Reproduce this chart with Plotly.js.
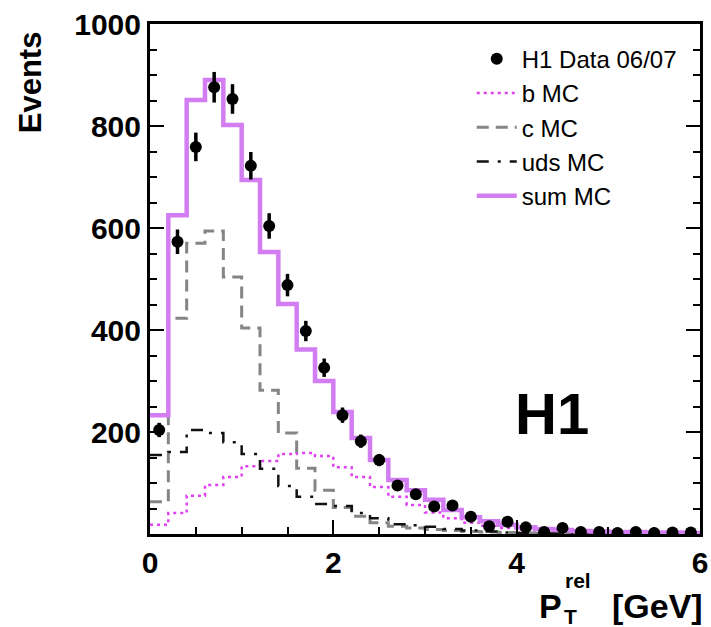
<!DOCTYPE html>
<html>
<head>
<meta charset="utf-8">
<script src="https://cdn.plot.ly/plotly-3.0.1.min.js"></script>
<style>html,body{margin:0;padding:0;background:#fff;}#chart{width:711px;height:627px;}</style>
</head>
<body>
<div id="chart"></div>
<script>
// Bin edges and bin centres of the P_T^rel histogram [GeV]
const binEdges = [0,0.2,0.4,0.6,0.8,1.0,1.2,1.4,1.6,1.8,2.0,2.2,2.4,2.6,2.8,3.0,3.2,3.4,3.6,3.8,4.0,4.2,4.4,4.6,4.8,5.0,5.2,5.4,5.6,5.8,6.0];
const binCentres = [0.1,0.3,0.5,0.7,0.9,1.1,1.3,1.5,1.7,1.9,2.1,2.3,2.5,2.7,2.9,3.1,3.3,3.5,3.7,3.9,4.1,4.3,4.5,4.7,4.9,5.1,5.3,5.5,5.7,5.9];

// H1 Data 06/07
const dataEvents = [204,573,759,876,853,722,604,488,398,326,233,182,145,95,78,54,56,34,15,24,13,4,12,4,4,2,4,2,3,3];
const dataErrors = [14,24,28,30,29,27,25,22,20,18,15,13,12,10,9,7,7,6,4,5,4,2,3,2,2,1,2,1,2,2];

// Monte Carlo templates
const bMC   = [18,41,75,96,112,133,143,157,159,153,131,112,92,73,57,42,31,22,16,12,9,7,5,4,3,3,2,2,2,1];
const cMC   = [63,423,570,594,504,404,282,198,129,86,52,35,22,15,12,9,7,5,4,3,2,1.5,1,1,0.8,0.6,0.5,0.4,0.3,0.3];
const udsMC = [155,161,204,198,180,157,128,94,73,59,55,41,31,19,17,14,10,7,5,3,2,1.5,1,1,0.8,0.6,0.5,0.4,0.3,0.3];
const sumMC = [233,625,851,890,802,694,553,451,362,300,239,188,145,106,86,67,47,33,25,18,13,10,8,6,5,4,4,3,3,2];

const yTicks = [200,400,600,800,1000];
const xTicks = [0,2,4,6];

function stepY(arr){ return arr.concat([arr[arr.length-1]]); }

const FONT = 'Liberation Sans, Arial, Helvetica, sans-serif';

const traces = [
  {x: binEdges, y: stepY(bMC), name: 'b MC', type: 'scatter', mode: 'lines',
   line: {shape: 'hv', color: '#e040f0', width: 2.5, dash: '3px,4px'}, legendrank: 2, legendgroup: 'b'},
  {x: binEdges, y: stepY(cMC), name: 'c MC', type: 'scatter', mode: 'lines',
   line: {shape: 'hv', color: '#858585', width: 3, dash: '12px,7px'}, legendrank: 3, legendgroup: 'c'},
  {x: binEdges, y: stepY(udsMC), name: 'uds MC', type: 'scatter', mode: 'lines',
   line: {shape: 'hv', color: '#111111', width: 2.5, dash: '12px,9px,3px,9px'}, legendrank: 4, legendgroup: 'uds'},
  {x: binEdges, y: stepY(sumMC), name: 'sum MC', type: 'scatter', mode: 'lines',
   line: {shape: 'hv', color: '#d27ef2', width: 4.5}, legendrank: 5, legendgroup: 'sum'},
  {x: binCentres, y: dataEvents, name: 'H1 Data 06/07', type: 'scatter', mode: 'markers',
   marker: {color: '#000', size: 12, symbol: 'circle'},
   error_y: {type: 'data', array: dataErrors, visible: true, color: '#000', thickness: 3.5, width: 0},
   legendrank: 1, legendgroup: 'data'}
];

const layout = {
  width: 711, height: 627,
  margin: {l: 150, r: 11, t: 24, b: 93, pad: 0},
  paper_bgcolor: '#fff', plot_bgcolor: '#fff',
  showlegend: true,
  legend: {x: 0.585, y: 0.975, xanchor: 'left', yanchor: 'top', bgcolor: 'rgba(0,0,0,0)',
           font: {family: FONT, size: 24, color: '#000'}, tracegroupgap: 0, itemwidth: 40},
  xaxis: {range: [0, 6], tickvals: xTicks, ticktext: xTicks.map(String), ticks: 'inside', ticklen: 14, tickwidth: 2,
          tickcolor: '#000', minor: {dtick: 0.5, ticks: 'inside', ticklen: 7, tickwidth: 2, tickcolor: '#000'},
          showline: true, linecolor: '#000', linewidth: 3, mirror: true, showgrid: false, zeroline: false,
          tickfont: {family: FONT, size: 30, color: '#000', weight: 'bold'}},
  yaxis: {range: [0, 1000], tickvals: yTicks, ticktext: yTicks.map(String), ticks: 'inside', ticklen: 14, tickwidth: 2,
          tickcolor: '#000', minor: {dtick: 50, ticks: 'inside', ticklen: 7, tickwidth: 2, tickcolor: '#000'},
          showline: true, linecolor: '#000', linewidth: 3, mirror: 'ticks', showgrid: false, zeroline: false,
          tickfont: {family: FONT, size: 30, color: '#000', weight: 'bold'}},
  annotations: [
    {text: 'Events', xref: 'paper', yref: 'paper', x: -0.218, y: 0.886, textangle: -90,
     showarrow: false, xanchor: 'center', yanchor: 'middle', font: {family: FONT, size: 31, color: '#000', weight: 'bold'}},
    {text: 'H1', xref: 'paper', yref: 'paper', x: 0.731, y: 0.237, showarrow: false,
     xanchor: 'center', yanchor: 'middle', font: {family: FONT, size: 58, color: '#000', weight: 'bold'}},
    {text: 'P', xref: 'paper', yref: 'paper', x: (537-150)/550, y: (534-606)/510, showarrow: false,
     xanchor: 'left', yanchor: 'middle', font: {family: FONT, size: 34, color: '#000', weight: 'bold'}},
    {text: 'rel', xref: 'paper', yref: 'paper', x: (563-150)/550, y: (534-580)/510, showarrow: false,
     xanchor: 'left', yanchor: 'middle', font: {family: FONT, size: 21, color: '#000', weight: 'bold'}},
    {text: 'T', xref: 'paper', yref: 'paper', x: (562-150)/550, y: (534-616)/510, showarrow: false,
     xanchor: 'left', yanchor: 'middle', font: {family: FONT, size: 21, color: '#000', weight: 'bold'}},
    {text: '[GeV]', xref: 'paper', yref: 'paper', x: (610-150)/550, y: (534-606)/510, showarrow: false,
     xanchor: 'left', yanchor: 'middle', font: {family: FONT, size: 34, color: '#000', weight: 'bold'}}
  ]
};

Plotly.newPlot('chart', traces, layout, {displayModeBar: false, staticPlot: true});
</script>
</body>
</html>
